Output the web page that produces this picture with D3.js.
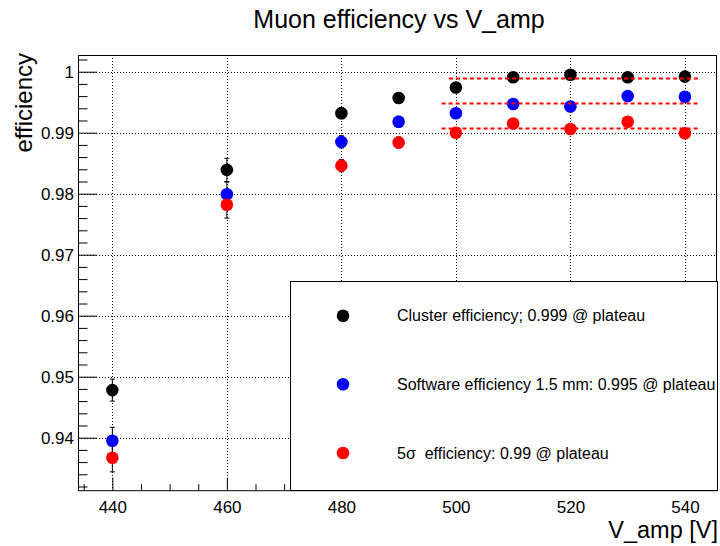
<!DOCTYPE html>
<html><head><meta charset="utf-8">
<script src="https://cdn.jsdelivr.net/npm/d3@7"></script>
<style>
body{margin:0;background:#fff;}
text{font-family:"Liberation Sans",Arial,Helvetica,sans-serif;fill:#000;}
</style></head>
<body><svg id="chart" width="720" height="546"></svg>
<script>
// ---- data ----
const voltages = [440, 460, 480, 490, 500, 510, 520, 530, 540];
const clusterEff  = [0.9478, 0.9839, 0.9932, 0.9957, 0.9974, 0.9991, 0.9995, 0.9991, 0.9992];
const clusterErr  = [0.0018, 0.0019, 0.0009, 0.0008, 0.0005, 0.0004, 0.0004, 0.0004, 0.0004];
const softwareEff = [0.9395, 0.9799, 0.9885, 0.9918, 0.9932, 0.9947, 0.9943, 0.9960, 0.9959];
const softwareErr = [0.0022, 0.0020, 0.0010, 0.0009, 0.0006, 0.0005, 0.0005, 0.0005, 0.0005];
const sigmaEff    = [0.9367, 0.9782, 0.9846, 0.9884, 0.9900, 0.9915, 0.9906, 0.9918, 0.9899];
const sigmaErr    = [0.0023, 0.0022, 0.0010, 0.0009, 0.0006, 0.0005, 0.0005, 0.0005, 0.0005];
const plateauFits = [0.9989, 0.9948, 0.9907];
const fitStart = [498.8, 497.5, 497.5];
const fitEnd   = [542.3, 542.3, 542.3];
const seriesNames = ["Cluster efficiency; 0.999 @ plateau",
                     "Software efficiency 1.5 mm: 0.995 @ plateau",
                     "5\u03c3  efficiency: 0.99 @ plateau"];
const seriesColors = ["#000000", "#0000ff", "#ff0000"];
const xTickValues = [440, 460, 480, 500, 520, 540];
const xTickLabels = ["440", "460", "480", "500", "520", "540"];
const yTickValues = [0.94, 0.95, 0.96, 0.97, 0.98, 0.99, 1.0];
const yTickLabels = ["0.94", "0.95", "0.96", "0.97", "0.98", "0.99", "1"];
const titleText = "Muon efficiency vs V_amp";
const xTitle = "V_amp [V]";
const yTitle = "efficiency";

// ---- layout ----
const L = 78, R = 717, T = 55, B = 490.7;
const svg = d3.select("#chart");
const x = d3.scaleLinear().domain([434, 545.6]).range([L, R]);
const y = d3.scaleLinear().domain([0.93131, 1.00274]).range([B, T]);

const series = [
  {vals: clusterEff, errs: clusterErr},
  {vals: softwareEff, errs: softwareErr},
  {vals: sigmaEff, errs: sigmaErr}
];

// grid
const grid = svg.append("g").attr("stroke", "#000").attr("stroke-width", 1).attr("stroke-dasharray", "1,2");
grid.selectAll("line.v").data(xTickValues).join("line")
  .attr("x1", d => Math.round(x(d)) + 0.5).attr("x2", d => Math.round(x(d)) + 0.5)
  .attr("y1", T).attr("y2", B);
grid.selectAll("line.h").data(yTickValues).join("line")
  .attr("y1", d => Math.round(y(d)) + 0.5).attr("y2", d => Math.round(y(d)) + 0.5)
  .attr("x1", L).attr("x2", R);

// axes
const xMinor = d3.range(435, 546, 5).filter(v => !xTickValues.includes(v));
const yMinor = d3.range(0, 36).map(i => +(0.932 + i * 0.002).toFixed(3)).filter(v => v < 1.0027 && !yTickValues.some(t => Math.abs(t - v) < 1e-6));

const xAxis = svg.append("g").attr("transform", `translate(0,${B})`)
  .call(d3.axisBottom(x).tickValues(xTickValues).tickFormat((d, i) => xTickLabels[i])
    .tickSizeInner(-13).tickSizeOuter(0).tickPadding(10));
xAxis.append("g").call(d3.axisBottom(x).tickValues(xMinor).tickFormat("").tickSizeInner(-6.5).tickSizeOuter(0));
xAxis.selectAll(".domain").remove();
xAxis.selectAll("text").attr("font-size", 17).attr("font-family", "Liberation Sans, Arial, sans-serif");

const yAxis = svg.append("g").attr("transform", `translate(${L},0)`)
  .call(d3.axisLeft(y).tickValues(yTickValues).tickFormat((d, i) => yTickLabels[i])
    .tickSizeInner(-19).tickSizeOuter(0).tickPadding(4));
yAxis.append("g").call(d3.axisLeft(y).tickValues(yMinor).tickFormat("").tickSizeInner(-9.5).tickSizeOuter(0));
yAxis.selectAll(".domain").remove();
yAxis.selectAll("text").attr("font-size", 17).attr("font-family", "Liberation Sans, Arial, sans-serif");

// error bars + markers
series.forEach((s, si) => {
  const g = svg.append("g");
  const pts = voltages.map((v, i) => ({v, e: s.vals[i], err: s.errs[i]}));
  g.selectAll("line.err").data(pts).join("line")
    .attr("x1", d => x(d.v)).attr("x2", d => x(d.v))
    .attr("y1", d => y(d.e - d.err)).attr("y2", d => y(d.e + d.err))
    .attr("stroke", "#000").attr("stroke-width", 1);
  g.selectAll("line.capT").data(pts).join("line")
    .attr("x1", d => x(d.v) - 2.5).attr("x2", d => x(d.v) + 2.5)
    .attr("y1", d => y(d.e + d.err)).attr("y2", d => y(d.e + d.err))
    .attr("stroke", "#000").attr("stroke-width", 1);
  g.selectAll("line.capB").data(pts).join("line")
    .attr("x1", d => x(d.v) - 2.5).attr("x2", d => x(d.v) + 2.5)
    .attr("y1", d => y(d.e - d.err)).attr("y2", d => y(d.e - d.err))
    .attr("stroke", "#000").attr("stroke-width", 1);
});
series.forEach((s, si) => {
  svg.append("g").selectAll("circle").data(voltages.map((v, i) => ({v, e: s.vals[i]}))).join("circle")
    .attr("cx", d => x(d.v)).attr("cy", d => y(d.e)).attr("r", 6.3)
    .attr("fill", seriesColors[si]);
});

// plateau fits
svg.append("g").selectAll("line").data(plateauFits).join("line")
  .attr("x1", (d, i) => x(fitStart[i])).attr("x2", (d, i) => x(fitEnd[i]))
  .attr("y1", d => y(d)).attr("y2", d => y(d))
  .attr("stroke", "#ff0000").attr("stroke-width", 2).attr("stroke-dasharray", "4,3");

// frame
svg.append("rect").attr("x", L + 0.5).attr("y", T + 0.5).attr("width", R - L - 1).attr("height", B - T - 0.5)
  .attr("fill", "none").attr("stroke", "#000").attr("stroke-width", 1);

// legend
const lg = svg.append("g");
lg.append("rect").attr("x", 290.5).attr("y", 281.5).attr("width", 427).attr("height", 209)
  .attr("fill", "#fff").attr("stroke", "#000").attr("stroke-width", 1);
const legY = [315.7, 384.3, 453];
seriesNames.forEach((n, i) => {
  lg.append("circle").attr("cx", 343).attr("cy", legY[i]).attr("r", 6.3).attr("fill", seriesColors[i]);
  lg.append("text").attr("x", 397).attr("y", legY[i]).attr("dy", "0.35em")
    .attr("font-size", 16).style("white-space", "pre").text(n);
});

// titles
svg.append("text").attr("x", 399).attr("y", 28).attr("text-anchor", "middle").attr("font-size", 25).text(titleText);
svg.append("text").attr("x", 718).attr("y", 538).attr("text-anchor", "end").attr("font-size", 23.5).text(xTitle);
svg.append("text").attr("transform", "translate(32,53) rotate(-90)").attr("text-anchor", "end").attr("font-size", 24).text(yTitle);
</script></body></html>
